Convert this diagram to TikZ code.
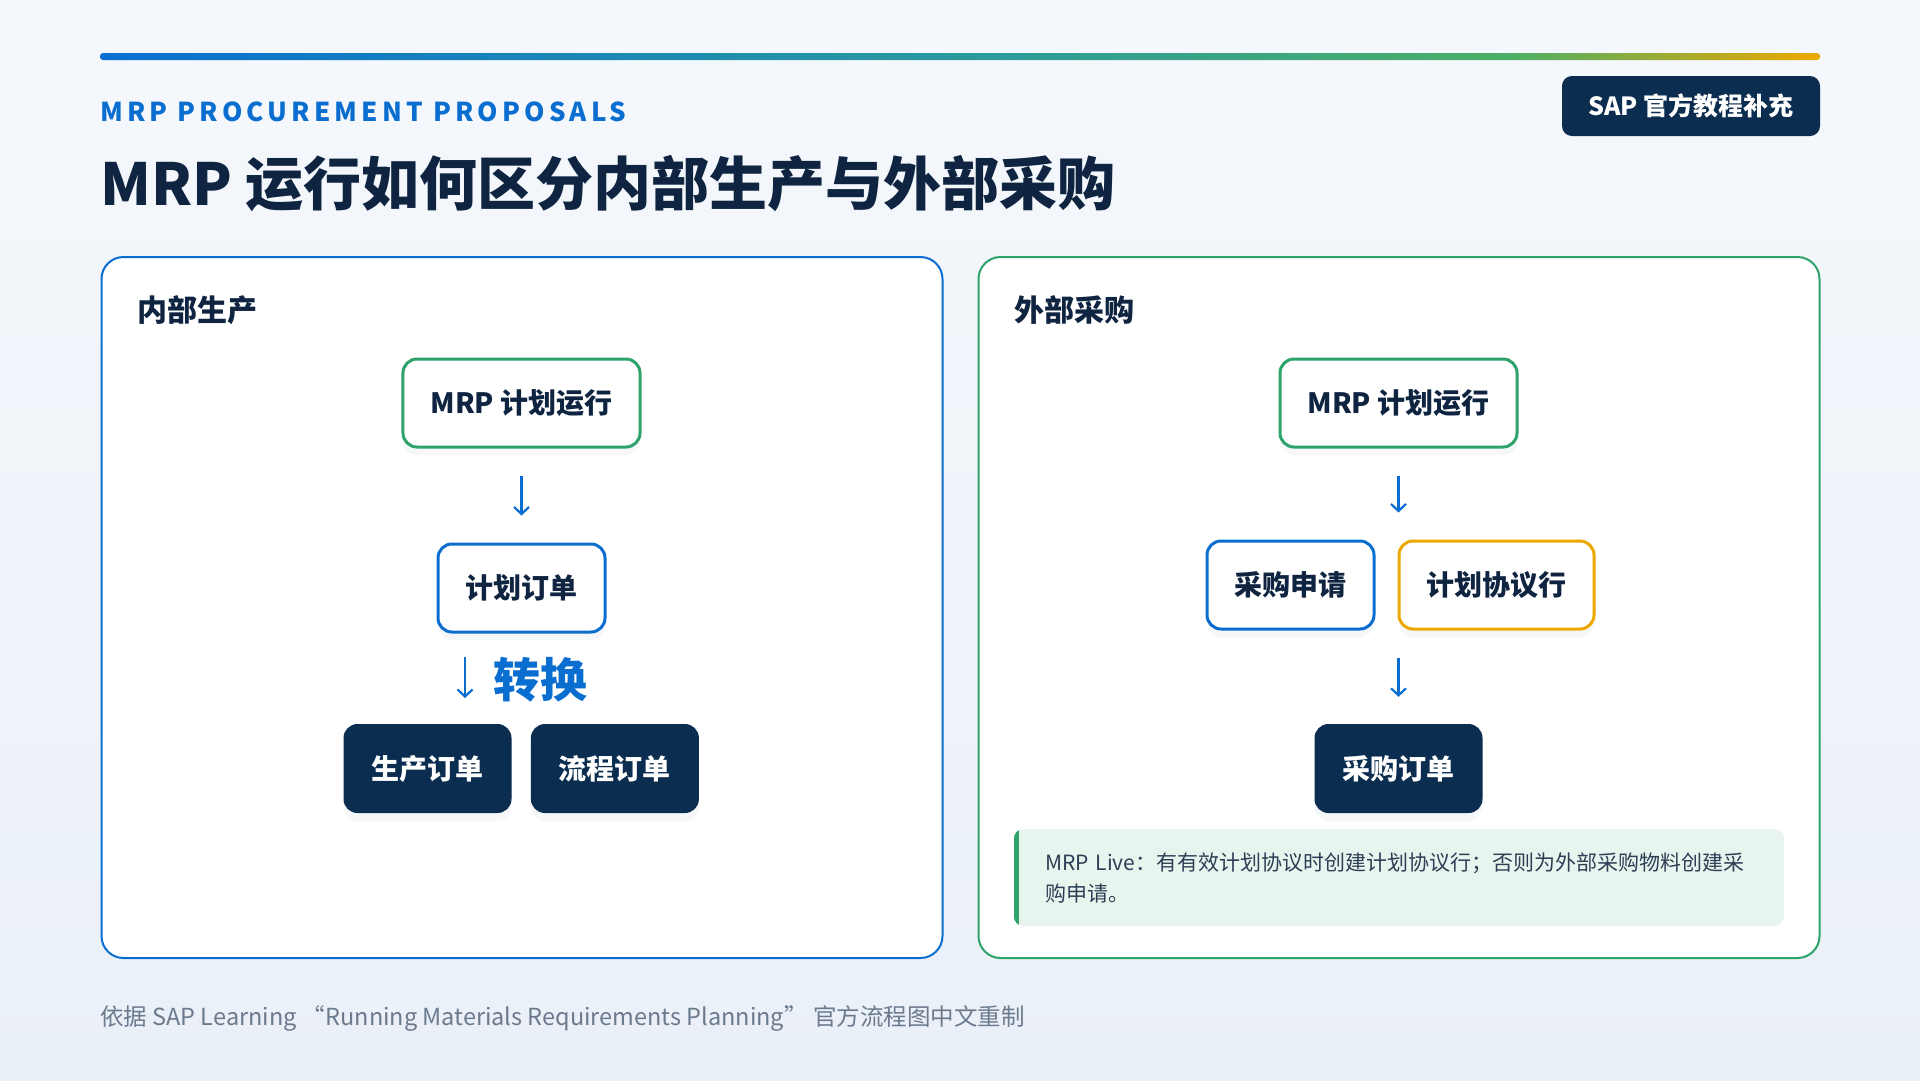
\documentclass[tikz,border=0pt]{standalone}
\usepackage{fontspec}
\setmainfont{Noto Sans CJK SC}
\usetikzlibrary{positioning, arrows.meta}

\definecolor{inkNavy}{HTML}{0F2440}
\definecolor{sapBlue}{HTML}{0A6ED1}
\definecolor{sapGreen}{HTML}{2EA36B}
\definecolor{sapGold}{HTML}{EDA800}
\definecolor{barTeal}{HTML}{2A9A9E}
\definecolor{barGreen}{HTML}{4CAF66}
\definecolor{darkBox}{HTML}{0B2D50}
\definecolor{noteFill}{HTML}{E8F5EE}
\definecolor{noteInk}{HTML}{2D3E55}
\definecolor{footGray}{HTML}{6B7A8D}
\definecolor{bgTop}{HTML}{F5F8FC}
\definecolor{bgBot}{HTML}{EAF0F8}
\definecolor{shadowTint}{HTML}{4A6A9A}

\pgfdeclarehorizontalshading{topbar}{100bp}{color(0bp)=(sapBlue); color(25bp)=(sapBlue); color(50bp)=(barTeal); color(66bp)=(barGreen); color(75bp)=(sapGold); color(100bp)=(sapGold)}

\begin{document}
\begin{tikzpicture}[
    x=1pt, y=-1pt,
    node distance=94pt and 20pt,
    softshadow/.style={preaction={fill=shadowTint, fill opacity=0.05, transform canvas={yshift=-8pt}}},
    panel/.style={rectangle, rounded corners=22pt, fill=white, line width=2pt, minimum width=841pt, minimum height=701pt},
    heading/.style={anchor=west, inner sep=0pt, text=inkNavy, font=\fontsize{30}{36}\selectfont\bfseries},
    plan/.style={rectangle, rounded corners=14pt, fill=white, line width=3pt, inner xsep=27.5pt, minimum height=88pt, text=inkNavy, font=\fontsize{28}{34}\selectfont\bfseries, softshadow},
    order/.style={rectangle, rounded corners=14pt, fill=darkBox, inner xsep=28pt, minimum height=89pt, text=white, font=\fontsize{28}{34}\selectfont\bfseries, softshadow},
    arrow/.style={draw=sapBlue, line width=2.2pt, -{Straight Barb[length=7pt, width=15pt]}},
    gap/.style={shorten <=27pt, shorten >=27pt}
]

% Background
\shade[top color=bgTop, bottom color=bgBot] (0,0) rectangle (1920,1080);
\useasboundingbox (0,0) rectangle (1920,1080);
\shade[shading=topbar, rounded corners=3pt] (100,53) rectangle (1820,60);

% Header
\node[anchor=west, inner sep=0pt, text=sapBlue, font=\fontsize{26}{30}\selectfont\bfseries\addfontfeatures{LetterSpace=16}] (kicker) at (100,112) {MRP PROCUREMENT PROPOSALS};
\node[anchor=west, inner sep=0pt, text=inkNavy, font=\fontsize{58}{66}\selectfont\bfseries] (headline) at (100,184) {MRP 运行如何区分内部生产与外部采购};
\node[rectangle, rounded corners=10pt, fill=darkBox, minimum width=258pt, minimum height=60pt, text=white, font=\fontsize{25}{30}\selectfont\bfseries] (sapTag) at (1691,106) {SAP 官方教程补充};

% Panels
\node[panel, draw=sapBlue] (inPanel) at (522,607.5) {};
\node[panel, draw=sapGreen] (exPanel) at (1399,607.5) {};
\node[heading] (inTitle) at (137,310) {内部生产};
\node[heading] (exTitle) at (1014,310) {外部采购};

% Internal production
\node[plan, draw=sapGreen] (inMrp) at (521.5,403) {MRP 计划运行};
\node[plan, draw=sapBlue, below=of inMrp] (inPlanned) {计划订单};
\node[anchor=west, inner sep=0pt, text=sapBlue, font=\fontsize{47}{54}\selectfont\bfseries] (convert) at (493,680) {转换};
\coordinate (cvTop) at (465,657);
\coordinate (cvEnd) at (465,698);
\node[order] (prodOrd) at (427.5,768.5) {生产订单};
\node[order, right=19pt of prodOrd] (procOrd) {流程订单};

% External procurement
\node[plan, draw=sapGreen] (exMrp) at (1398.5,403) {MRP 计划运行};
\node[plan, draw=sapBlue] (exReq) at (1290.5,585) {采购申请};
\node[plan, draw=sapGold, right=22pt of exReq] (exSched) {计划协议行};
\node[order] (exPO) at (1398.5,768.5) {采购订单};

% Note
\node[rectangle, rounded corners=10pt, fill=noteFill, minimum width=770pt, minimum height=97pt, inner xsep=31pt, text width=708pt, align=left, text=noteInk, font=\fontsize{21}{31}\selectfont] (exNote) at (1399,877.5) {MRP Live：有有效计划协议时创建计划协议行；否则为外部采购物料创建采\\购申请。};
\begin{scope}
  \path[clip, rounded corners=10pt] (exNote.north west) rectangle (exNote.south east);
  \fill[sapGreen] (exNote.north west) rectangle ([xshift=5pt]exNote.south west);
\end{scope}

% Arrows
\draw[arrow, gap] (inMrp) -- (inPlanned);
\draw[arrow] (cvTop) -- (cvEnd);
\draw[arrow, gap] (exMrp) -- (exMrp |- exReq.north);
\draw[arrow, gap] (exReq.south -| exPO.north) -- (exPO.north);

% Footer
\node[anchor=west, inner sep=0pt, text=footGray, font=\fontsize{23.5}{28}\selectfont] (source) at (100,1018) {依据 SAP Learning “Running Materials Requirements Planning” 官方流程图中文重制};

\end{tikzpicture}
\end{document}
